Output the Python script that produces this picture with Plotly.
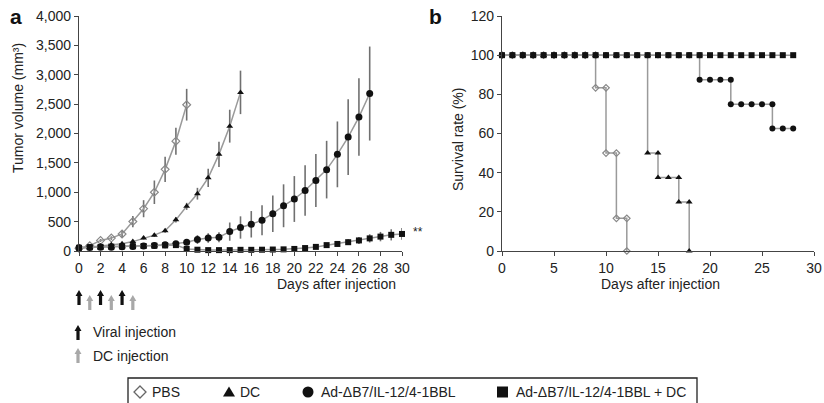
import plotly.graph_objects as go

W, H = 824, 403

# ---------------- Panel a data ----------------
pbs_days = list(range(0, 11))
pbs_vol = [45, 90, 180, 220, 290, 500, 720, 1000, 1390, 1870, 2490]
pbs_err = [10, 15, 25, 30, 50, 95, 145, 200, 215, 230, 270]

dc_days = list(range(0, 16))
dc_vol = [45, 65, 85, 105, 125, 160, 220, 270, 345, 530, 760, 975, 1245, 1645, 2125, 2700]
dc_err = [10, 10, 12, 15, 15, 20, 25, 30, 35, 45, 60, 100, 155, 215, 280, 370]

ad_days = list(range(0, 28))
ad_vol = [55, 60, 62, 65, 72, 78, 85, 95, 105, 125, 150, 195, 222, 235, 330, 400,
          455, 525, 635, 770, 885, 1030, 1200, 1385, 1645, 1940, 2280, 2680]
ad_err = [15, 15, 15, 15, 18, 20, 22, 25, 28, 35, 45, 75, 80, 85, 155, 190,
          225, 255, 310, 365, 390, 430, 450, 490, 560, 645, 660, 800]

sq_days = list(range(0, 31))
sq_vol = [55, 65, 70, 75, 80, 82, 85, 90, 95, 100, 35, 22, 15, 15, 15, 20,
          20, 22, 25, 28, 35, 50, 70, 100, 120, 150, 180, 215, 245, 275, 290]
sq_err = [10, 10, 10, 10, 10, 10, 10, 10, 10, 12, 10, 8, 8, 8, 8, 8,
          8, 8, 10, 10, 12, 15, 20, 30, 40, 50, 60, 70, 80, 95, 100]

# ---------------- Panel b data (survival % per day) ----------------
surv_pbs_days = list(range(0, 13))
surv_pbs = [100, 100, 100, 100, 100, 100, 100, 100, 100, 83.3, 50, 16.7, 0]
surv_dc_days = list(range(0, 19))
surv_dc = [100] * 14 + [50, 37.5, 37.5, 25, 0]
surv_ad_days = list(range(0, 29))
surv_ad = [100] * 19 + [87.5, 87.5, 87.5, 75, 75, 75, 75, 62.5, 62.5, 62.5]
surv_sq_days = list(range(0, 29))
surv_sq = [100] * 29

xticks_a = list(range(0, 31, 2))
yticks_a = [0, 500, 1000, 1500, 2000, 2500, 3000, 3500, 4000]
xticks_b = [0, 5, 10, 15, 20, 25, 30]
yticks_b = [0, 20, 40, 60, 80, 100, 120]

viral_days = [0, 2, 4]
dc_inj_days = [1, 3, 5]

legend_labels = ["PBS", "DC", "Ad-ΔB7/IL-12/4-1BBL", "Ad-ΔB7/IL-12/4-1BBL + DC"]

FONT = "Liberation Sans, Arial, sans-serif"
LINE = "#9a9a9a"
ERR = "#707070"
AX = "#444444"
BLACK_ARROW = "#111111"
GRAY_ARROW = "#a8a8a8"

XA_DOM = [79 / W, 402 / W]
XB_DOM = [502 / W, 814 / W]
XA_RANGE = [0, 30]


def steps(days, vals):
    xs, ys = [], []
    prev = None
    for d, v in zip(days, vals):
        if prev is not None and v != prev:
            xs.append(d)
            ys.append(prev)
        xs.append(d)
        ys.append(v)
        prev = v
    return xs, ys


fig = go.Figure()

series_a = [
    (pbs_days, pbs_vol, pbs_err, dict(symbol="diamond-open", size=6, color="#888888", line=dict(width=1.2, color="#888888"))),
    (dc_days, dc_vol, dc_err, dict(symbol="triangle-up", size=6, color="#111111")),
    (ad_days, ad_vol, ad_err, dict(symbol="circle", size=7, color="#111111")),
    (sq_days, sq_vol, sq_err, dict(symbol="square", size=6, color="#111111")),
]
for x, y, e, mk in series_a:
    fig.add_trace(go.Scatter(
        x=x, y=y, mode="lines+markers", xaxis="x", yaxis="y",
        line=dict(color=LINE, width=1.5), marker=mk,
        error_y=dict(type="data", array=e, color=ERR, thickness=1.6, width=0),
        cliponaxis=False, showlegend=False))

series_b = [
    (surv_pbs_days, surv_pbs, dict(symbol="diamond-open", size=5, color="#888888", line=dict(width=1.2, color="#888888"))),
    (surv_dc_days, surv_dc, dict(symbol="triangle-up", size=6, color="#111111")),
    (surv_ad_days, surv_ad, dict(symbol="circle", size=6, color="#111111")),
    (surv_sq_days, surv_sq, dict(symbol="square", size=6, color="#111111")),
]
for d, v, mk in series_b:
    xs, ys = steps(d, v)
    fig.add_trace(go.Scatter(
        x=xs, y=ys, mode="lines+markers", xaxis="x2", yaxis="y2",
        line=dict(color=LINE, width=1.5), marker=mk,
        cliponaxis=False, showlegend=False))

axis_common = dict(showline=True, linecolor=AX, linewidth=1.3, ticks="outside",
                   tickcolor=AX, ticklen=4, tickwidth=1.2, showgrid=False,
                   zeroline=False, automargin=False,
                   tickfont=dict(family=FONT, size=14, color="#222222"))

top = 1 - 16 / H
bottom = 1 - 251 / H

fig.update_layout(
    template="none",
    width=W, height=H, autosize=False,
    margin=dict(l=0, r=0, t=0, b=0, pad=0, autoexpand=False),
    paper_bgcolor="white", plot_bgcolor="white",
    font=dict(family=FONT, size=14, color="#222222"),
    xaxis=dict(domain=XA_DOM, range=XA_RANGE, tickvals=xticks_a,
               anchor="y", **axis_common),
    yaxis=dict(domain=[bottom, top], range=[0, 4000], tickvals=yticks_a,
               tickformat=",d", anchor="x", **axis_common),
    xaxis2=dict(domain=XB_DOM, range=[0, 30], tickvals=xticks_b,
                anchor="y2", **axis_common),
    yaxis2=dict(domain=[bottom, top], range=[0, 120], tickvals=yticks_b,
                anchor="x2", **axis_common),
)

ann = []
txt = dict(family=FONT, size=14, color="#222222")
bold = dict(family=FONT, size=21, color="#111111", weight="bold")
# panel letters
ann.append(dict(text="a", x=8 / W, y=1 - 16 / H, xref="paper", yref="paper",
                xanchor="left", yanchor="middle", showarrow=False, font=bold))
ann.append(dict(text="b", x=427 / W, y=1 - 16 / H, xref="paper", yref="paper",
                xanchor="left", yanchor="middle", showarrow=False, font=bold))
# axis titles
ann.append(dict(text="Tumor volume (mm³)", x=18 / W, y=1 - 108 / H,
                xref="paper", yref="paper", textangle=-90, showarrow=False,
                xanchor="center", yanchor="middle", font=txt))
ann.append(dict(text="Survival rate (%)", x=458 / W, y=1 - 140 / H,
                xref="paper", yref="paper", textangle=-90, showarrow=False,
                xanchor="center", yanchor="middle", font=txt))
ann.append(dict(text="Days after injection", x=398 / W, y=1 - 284 / H,
                xref="paper", yref="paper", xanchor="right", yanchor="middle",
                showarrow=False, font=txt))
ann.append(dict(text="Days after injection", x=660 / W, y=1 - 284 / H,
                xref="paper", yref="paper", xanchor="center", yanchor="middle",
                showarrow=False, font=txt))
# significance
ann.append(dict(text="**", x=30, y=sq_vol[-1], xref="x", yref="y", xshift=16,
                yshift=2, showarrow=False, font=dict(family=FONT, size=12, color="#222222")))
# arrow legend texts
ann.append(dict(text="Viral injection", x=91 / W, y=1 - 332 / H, xref="paper",
                yref="paper", xanchor="left", yanchor="middle", showarrow=False, font=txt))
ann.append(dict(text="DC injection", x=91 / W, y=1 - 356 / H, xref="paper",
                yref="paper", xanchor="left", yanchor="middle", showarrow=False, font=txt))

# bottom legend texts
legend_text_x = [150, 238, 319, 514]
for label, px in zip(legend_labels, legend_text_x):
    ann.append(dict(text=label, x=px / W, y=1 - 392 / H, xref="paper",
                    yref="paper", xanchor="left", yanchor="middle", showarrow=False,
                    font=txt))

ARROW_PATH = "M 0,0 L 3.5,-6 L 1.6,-6 L 1.6,-15 L -1.6,-15 L -1.6,-6 L -3.5,-6 Z"


def day_to_paper(day):
    return XA_DOM[0] + (day - XA_RANGE[0]) / (XA_RANGE[1] - XA_RANGE[0]) * (XA_DOM[1] - XA_DOM[0])


def glyph(path, cx_px, cy_px, fill, line_color=None, lw=0):
    return dict(type="path", path=path, xref="paper", xsizemode="pixel", xanchor=cx_px / W,
                yref="paper", ysizemode="pixel", yanchor=1 - cy_px / H,
                fillcolor=fill, line=dict(width=lw, color=line_color or fill))


shapes = [dict(type="rect", xref="paper", yref="paper", x0=128 / W, x1=697 / W,
               y0=-0.02, y1=1 - 378 / H, line=dict(color="#222222", width=1.3))]
for d in viral_days:
    shapes.append(glyph(ARROW_PATH, day_to_paper(d) * W, 290, BLACK_ARROW))
for d in dc_inj_days:
    shapes.append(glyph(ARROW_PATH, day_to_paper(d) * W, 295, GRAY_ARROW))
shapes.append(glyph(ARROW_PATH, 78, 325, BLACK_ARROW))
shapes.append(glyph(ARROW_PATH, 78, 348, GRAY_ARROW))

# legend glyphs (pixel paths centred on anchor)
DIAMOND = "M 0,6 L 6,0 L 0,-6 L -6,0 Z"
TRIANGLE = "M 0,5.5 L 6,-4.5 L -6,-4.5 Z"
SQUARE = "M -5.5,-5.5 L 5.5,-5.5 L 5.5,5.5 L -5.5,5.5 Z"
shapes.append(glyph(DIAMOND, 140, 392, "white", "#666666", 1.3))
shapes.append(glyph(TRIANGLE, 229, 392, "#111111"))
shapes.append(dict(type="circle", xref="paper", xsizemode="pixel", xanchor=308 / W,
                   x0=-5.5, x1=5.5, yref="paper", ysizemode="pixel", yanchor=1 - 392 / H,
                   y0=-5.5, y1=5.5, fillcolor="#111111", line=dict(width=0)))
shapes.append(glyph(SQUARE, 502.5, 392, "#111111"))

fig.update_layout(annotations=ann, shapes=shapes)

fig.write_html("out.html")
